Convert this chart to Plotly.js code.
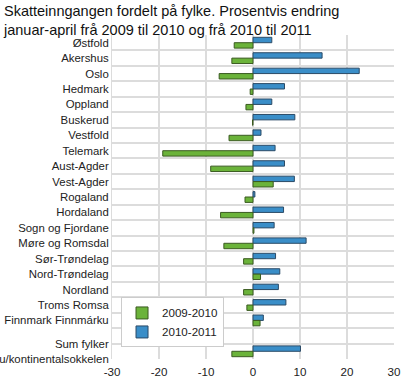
<!DOCTYPE html>
<html>
<head>
<meta charset="utf-8">
<script src="https://cdn.plot.ly/plotly-3.0.1.min.js"></script>
<style>html,body{margin:0;padding:0;background:#fff;}#chart{width:401px;height:380px;}</style>
</head>
<body>
<div id="chart"></div>
<script>
var categories = ["Østfold","Akershus","Oslo","Hedmark","Oppland","Buskerud","Vestfold","Telemark","Aust-Agder","Vest-Agder","Rogaland","Hordaland","Sogn og Fjordane","Møre og Romsdal","Sør-Trøndelag","Nord-Trøndelag","Nordland","Troms Romsa","Finnmark Finnmárku"," ","Sum fylker<br>u/kontinentalsokkelen"];
var series1Name = "2009-2010";
var series2Name = "2010-2011";
var values2009_2010 = [-4.0,-4.5,-7.2,-0.6,-1.5,-0.1,-5.1,-19.2,-9.0,4.3,-1.7,-6.9,0.2,-6.2,-2.0,1.6,-2.0,-1.3,1.5,null,-4.5];
var values2010_2011 = [4.0,14.7,22.6,6.7,4.0,8.9,1.7,4.7,6.7,8.8,0.4,6.5,4.5,11.3,4.8,5.7,5.4,7.0,2.2,null,10.1];
var xTicks = [-30,-20,-10,0,10,20,30];

var traces = [
  {type:'bar', orientation:'h', name:series2Name, y:categories, x:values2010_2011,
   marker:{color:'#3a8ec8', line:{color:'#2a4a66', width:1}}},
  {type:'bar', orientation:'h', name:series1Name, y:categories, x:values2009_2010,
   marker:{color:'#6bb33a', line:{color:'#3a5a20', width:1}}}
];
var layout = {
  width:401, height:380,
  margin:{l:112, r:7, t:35, b:21},
  paper_bgcolor:'#fff', plot_bgcolor:'#fff',
  font:{family:'Liberation Sans, Arial, sans-serif', size:11.4, color:'#222'},
  title:{text:'Skatteinngangen fordelt på fylke. Prosentvis endring<br>januar-april frå 2009 til 2010 og frå 2010 til 2011',
         font:{size:14.5, color:'#111'}, x:0.01, xanchor:'left', xref:'container', y:0.957, yanchor:'top', yref:'container'},
  barmode:'group', bargap:0.3, bargroupgap:0,
  xaxis:{range:[-30,30], tickvals:xTicks, ticktext:xTicks.map(String), showgrid:true, gridcolor:'#dcdcdc', gridwidth:1.5,
         zeroline:false, showline:false, ticks:'outside', ticklen:2, tickcolor:'rgba(0,0,0,0)', tickfont:{size:11.6}, fixedrange:true},
  yaxis:{type:'category', categoryorder:'array', categoryarray:categories, autorange:'reversed',
         tickson:'boundaries', showgrid:true, gridcolor:'#dcdcdc', gridwidth:2, ticks:'', ticklen:0,
         showline:true, linecolor:'#dcdcdc', linewidth:1, tickfont:{size:11.4}},
  legend:{x:0.032, y:0.19, xanchor:'left', yanchor:'top', traceorder:'reversed', bgcolor:'#fff',
          bordercolor:'#cccccc', borderwidth:1, font:{size:11.6}},
  showlegend:true
};
Plotly.newPlot('chart', traces, layout, {displayModeBar:false, staticPlot:true});
</script>
</body>
</html>
